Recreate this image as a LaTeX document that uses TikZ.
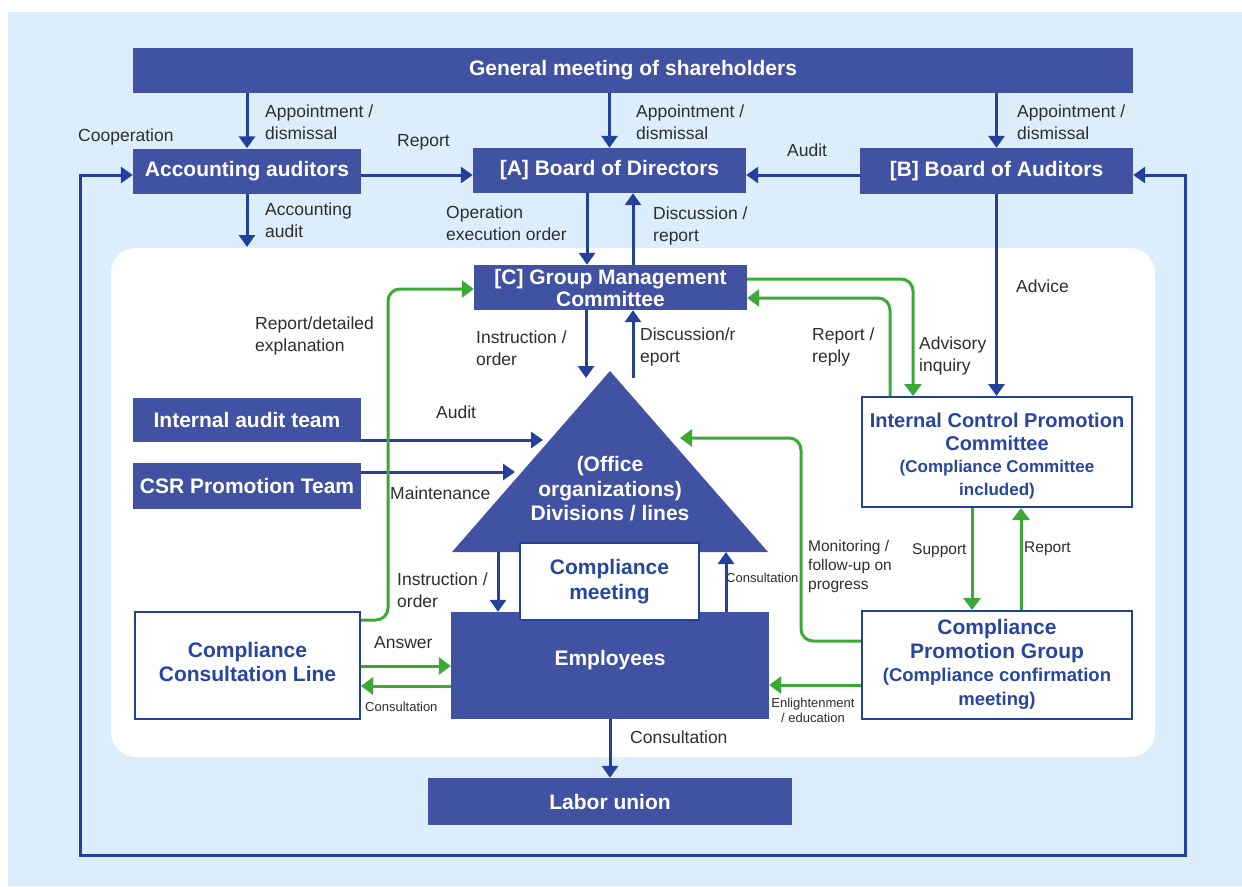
\documentclass[tikz,border=0pt]{standalone}
\usepackage{fontspec}
\setmainfont{Liberation Sans}
\usetikzlibrary{arrows.meta,calc}
\definecolor{bgblue}{HTML}{DCEEFC}
\definecolor{boxblue}{HTML}{4152A3}
\definecolor{arrblue}{HTML}{23419B}
\definecolor{grn}{HTML}{3BAA35}
\definecolor{txtblue}{HTML}{2846A0}
\definecolor{lblgray}{HTML}{2E2E2E}
\begin{document}
\begin{tikzpicture}[x=1pt,y=-1pt,
  bbox/.style={fill=boxblue, draw=none, text=white, font=\bfseries\fontsize{21}{22}\selectfont, align=center, inner sep=0pt},
  wbox/.style={fill=white, draw=arrblue, line width=2pt, text=txtblue, font=\bfseries\fontsize{21}{24.5}\selectfont, align=center, inner sep=0pt},
  btext/.style={text=txtblue, align=center, inner sep=0pt},
  lab/.style={text=lblgray, font=\fontsize{17.5}{22}\selectfont, align=left, inner sep=0pt, anchor=west},
  labm/.style={text=lblgray, font=\fontsize{15.5}{19}\selectfont, align=left, inner sep=0pt, anchor=west},
  labs/.style={text=lblgray, font=\fontsize{13}{15}\selectfont, align=left, inner sep=0pt, anchor=west},
  barrow/.style={draw=arrblue, line width=3pt, -{Triangle[length=12pt,width=16pt]}},
  garrow/.style={draw=grn, line width=3pt, -{Triangle[length=12pt,width=17pt]}, rounded corners=12pt},
]
\useasboundingbox (0,0) rectangle (1242,886);
\fill[bgblue] (8,12) rectangle (1242,886);
\fill[white, rounded corners=25pt] (111,248) rectangle (1155,757);

% top boxes
\node[bbox, minimum width=1000pt, minimum height=45pt] (gm) at (633,70.5) {General meeting of shareholders};
\node[bbox, minimum width=228pt, minimum height=45pt] (acc) at (247,171) {Accounting auditors};
\node[bbox, minimum width=273pt, minimum height=45pt] (boa) at (609.5,170.5) {[A] Board of Directors};
\node[bbox, minimum width=273pt, minimum height=46pt] (bau) at (996.5,171) {[B] Board of Auditors};
\node[bbox, minimum width=273pt, minimum height=45pt] (gmc) at (610.5,287.5) {[C] Group Management\\Committee};
\node[bbox, minimum width=228pt, minimum height=44pt] (iat) at (247,420) {Internal audit team};
\node[bbox, minimum width=228pt, minimum height=46pt] (csr) at (247,486) {CSR Promotion Team};

% triangle and employees
\fill[boxblue] (610,371) coordinate (triT) -- (452,552) coordinate (triL) -- (768,552) coordinate (triR) -- cycle;
\node[text=white, align=center, inner sep=0pt, font=\bfseries\fontsize{21}{24.5}\selectfont] (tritext) at (610,489) {(Office\\organizations)\\Divisions / lines};
\node[bbox, minimum width=318pt, minimum height=107pt] (emp) at (610,665.5) {};
\node[text=white, font=\bfseries\fontsize{21}{22}\selectfont, inner sep=0pt] (empT) at (610,660) {Employees};
\node[wbox, minimum width=179pt, minimum height=77pt] (cm) at (609.5,581.5) {Compliance\\meeting};
\node[bbox, minimum width=364pt, minimum height=47pt] (lab) at (610,801.5) {Labor union};

% white boxes
\node[wbox, minimum width=225pt, minimum height=107pt] (ccl) at (247.5,665.5) {};
\node[btext, font=\bfseries\fontsize{21}{24.5}\selectfont] (cclT) at (247.5,662) {Compliance\\Consultation Line};
\node[wbox, minimum width=270pt, minimum height=110pt] (icpc) at (997,452) {};
\node[btext, font=\bfseries\fontsize{20}{22.5}\selectfont] (icpcT) at (997,456)
  {Internal Control Promotion\\Committee\\\fontsize{17}{21}\selectfont (Compliance Committee\\\fontsize{17}{21}\selectfont included)};
\node[wbox, minimum width=270pt, minimum height=108pt] (cpg) at (997,665) {};
\node[btext, font=\bfseries\fontsize{21}{23.5}\selectfont] (cpgT) at (997,664.5)
  {Compliance\\Promotion Group\\\fontsize{18.5}{22}\selectfont (Compliance confirmation\\\fontsize{18.5}{22}\selectfont meeting)};

% free-end coordinates
\coordinate (accEnd) at (247,247);
\coordinate (auditEnd) at (543,440);
\coordinate (maintEnd) at (515,472);
\coordinate (monEnd) at (680,438);
\coordinate (triDownL) at (586,378);
\coordinate (triUpR) at (633,378);

% blue arrows
\draw[barrow] (gm.south -| acc.north) -- (acc.north);
\draw[barrow] (gm.south -| boa.north) -- (boa.north);
\draw[barrow] (gm.south -| bau.north) -- (bau.north);
\draw[barrow] (acc.south) -- (accEnd);
\draw[barrow] (acc.east |- 0,175) -- (boa.west |- 0,175);
\draw[barrow] (bau.west |- 0,175) -- (boa.east |- 0,175);
\draw[barrow] (boa.south -| 587,0) -- (gmc.north -| 587,0);
\draw[barrow] (gmc.north -| 633,0) -- (boa.south -| 633,0);
\draw[barrow] (gmc.south -| 586,0) -- (triDownL);
\draw[barrow] (triUpR) -- (gmc.south -| 633,0);
\draw[barrow] (bau.south) -- (icpc.north -| bau.south);
\draw[barrow] (iat.east |- 0,440) -- (auditEnd);
\draw[barrow] (csr.east |- 0,472) -- (maintEnd);
\draw[barrow] (triL -| 498,0) -- (emp.north -| 498,0);
\draw[barrow] (emp.north -| 726,0) -- (triL -| 726,0);
\draw[barrow] (emp.south) -- (lab.north);
\draw[draw=arrblue, line width=3pt, {Triangle[length=12pt,width=16pt]}-{Triangle[length=12pt,width=16pt]}]
  (acc.west |- 0,175) -- (80,175) -- (80,855) -- (1185,855) -- (1185,175) -- (bau.east |- 0,175);

% green arrows
\draw[garrow] (ccl.east |- 0,620) -- (388,620) -- (388,289) -- (gmc.west |- 0,289);
\draw[garrow] (gmc.east |- 0,279) -- (913,279) -- (icpc.north -| 913,0);
\draw[garrow] (icpc.north -| 890,0) -- (890,298) -- (gmc.east |- 0,298);
\draw[garrow] (cpg.west |- 0,641) -- (801,641) -- (801,438) -- (monEnd);
\draw[garrow] (cpg.west |- 0,685) -- (emp.east |- 0,685);
\draw[garrow] (icpc.south -| 972,0) -- (cpg.north -| 972,0);
\draw[garrow] (cpg.north -| 1021,0) -- (icpc.south -| 1021,0);
\draw[garrow] (ccl.east |- 0,666) -- (emp.west |- 0,666);
\draw[garrow] (emp.west |- 0,686) -- (ccl.east |- 0,686);

% labels
\node[lab] (l1) at (265,122) {Appointment /\\dismissal};
\node[lab] (l2) at (636,122) {Appointment /\\dismissal};
\node[lab] (l3) at (1017,122) {Appointment /\\dismissal};
\node[lab] (l4) at (78,137) {Cooperation};
\node[lab] (l5) at (397,142) {Report};
\node[lab] (l6) at (787,150) {Audit};
\node[lab] (l7) at (265,220) {Accounting\\audit};
\node[lab] (l8) at (446,223) {Operation\\execution order};
\node[lab] (l9) at (653,226) {Discussion /\\report};
\node[lab] (l10) at (255,336) {Report/detailed\\explanation};
\node[lab] (l11) at (476,348) {Instruction /\\order};
\node[lab] (l12) at (640,347) {Discussion/r\\eport};
\node[lab] (l13) at (812,347) {Report /\\reply};
\node[lab] (l14) at (919,356) {Advisory\\inquiry};
\node[lab] (l15) at (1016,286) {Advice};
\node[lab] (l16) at (436,412) {Audit};
\node[lab] (l17) at (390,493) {Maintenance};
\node[lab] (l18) at (397,590) {Instruction /\\order};
\node[labs] (l19) at (726,578) {Consultation};
\node[labm] (l20) at (808,566) {Monitoring /\\follow-up on\\progress};
\node[labm] (l21) at (912,551) {Support};
\node[labm] (l22) at (1024,549) {Report};
\node[lab] (l23) at (374,643) {Answer};
\node[labs] (l24) at (365,707) {Consultation};
\node[labs, align=center, anchor=center] (l25) at (813,710) {Enlightenment\\/ education};
\node[lab] (l26) at (630,737) {Consultation};
\end{tikzpicture}
\end{document}
